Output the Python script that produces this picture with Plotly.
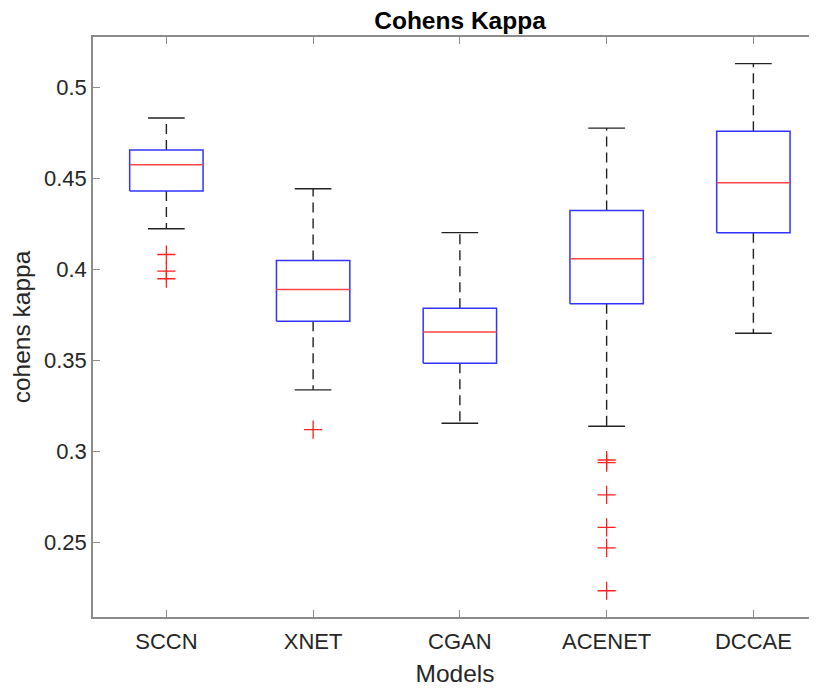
import plotly.graph_objects as go

models = ["SCCN", "XNET", "CGAN", "ACENET", "DCCAE"]
upper_whisker = [0.4831, 0.4443, 0.4202, 0.4776, 0.5130]
q3 = [0.4656, 0.4049, 0.3787, 0.4324, 0.4758]
median = [0.4575, 0.3890, 0.3656, 0.4059, 0.4476]
q1 = [0.4430, 0.3716, 0.3485, 0.3812, 0.4202]
lower_whisker = [0.4223, 0.3339, 0.3156, 0.3139, 0.3650]
outliers = [
    [0.4082, 0.3991, 0.3949],
    [0.3121],
    [],
    [0.2954, 0.2940, 0.2762, 0.2584, 0.2471, 0.2236],
    [],
]

BOX_HALF = 0.25
CAP_HALF = 0.125

fig = go.Figure()
for i, name in enumerate(models):
    xc = i + 1
    fig.add_trace(go.Scatter(x=[xc, xc, None, xc, xc],
                             y=[q3[i], upper_whisker[i], None, q1[i], lower_whisker[i]],
                             mode="lines", line=dict(color="#222222", width=1.4, dash="10px,6px"),
                             hoverinfo="skip", showlegend=False))
    fig.add_trace(go.Scatter(x=[xc - CAP_HALF, xc + CAP_HALF, None, xc - CAP_HALF, xc + CAP_HALF],
                             y=[upper_whisker[i], upper_whisker[i], None, lower_whisker[i], lower_whisker[i]],
                             mode="lines", line=dict(color="#222222", width=1.4),
                             hoverinfo="skip", showlegend=False))
    fig.add_trace(go.Scatter(x=[xc - BOX_HALF, xc + BOX_HALF, xc + BOX_HALF, xc - BOX_HALF, xc - BOX_HALF],
                             y=[q1[i], q1[i], q3[i], q3[i], q1[i]],
                             mode="lines", line=dict(color="#3333ff", width=1.5),
                             hoverinfo="skip", showlegend=False))
    fig.add_trace(go.Scatter(x=[xc - BOX_HALF, xc + BOX_HALF], y=[median[i], median[i]],
                             mode="lines", line=dict(color="#ff4444", width=1.5),
                             hoverinfo="skip", showlegend=False))
    if outliers[i]:
        fig.add_trace(go.Scatter(x=[xc] * len(outliers[i]), y=outliers[i], mode="markers",
                                 marker=dict(symbol="cross-thin", size=13,
                                             line=dict(color="#ff2020", width=1.3)),
                                 hoverinfo="skip", showlegend=False))

FONT = "Liberation Sans, Arial, sans-serif"
axis_font = dict(family=FONT, size=22, color="#262626")

W, H = 809, 681
fig.update_layout(
    width=W, height=H,
    margin=dict(l=85, r=0, t=29, b=72, autoexpand=False),
    plot_bgcolor="white", paper_bgcolor="white",
    title=dict(text="<b>Cohens Kappa</b>", x=452 / W, xanchor="center",
               y=1 - 12 / H, yanchor="middle", yref="container",
               font=dict(family=FONT, size=24.5, color="#000000")),
    xaxis=dict(range=[0.5, 0.5 + 724 / 146.75], tickvals=[1, 2, 3, 4, 5], ticktext=models,
               ticks="inside", ticklen=7, tickcolor="#8c8c8c", tickwidth=1,
               showline=True, linecolor="#8c8c8c", linewidth=1.5, mirror="ticks",
               showgrid=False, zeroline=False, tickfont=axis_font, automargin=False,
               ticklabelstandoff=4,
               title=dict(text="Models", standoff=12,
                          font=dict(family=FONT, size=24.5, color="#262626"))),
    yaxis=dict(range=[0.2092, 0.5276], tickvals=[0.25, 0.3, 0.35, 0.4, 0.45, 0.5],
               ticktext=["0.25", "0.3", "0.35", "0.4", "0.45", "0.5"],
               ticks="inside", ticklen=7, tickcolor="#8c8c8c", tickwidth=1,
               showline=True, linecolor="#8c8c8c", linewidth=1.5, mirror=False,
               showgrid=False, zeroline=False, tickfont=axis_font, automargin=False,
               title=dict(text="cohens kappa", standoff=8,
                          font=dict(family=FONT, size=24.5, color="#262626"))),
)

fig.write_html("out.html")
